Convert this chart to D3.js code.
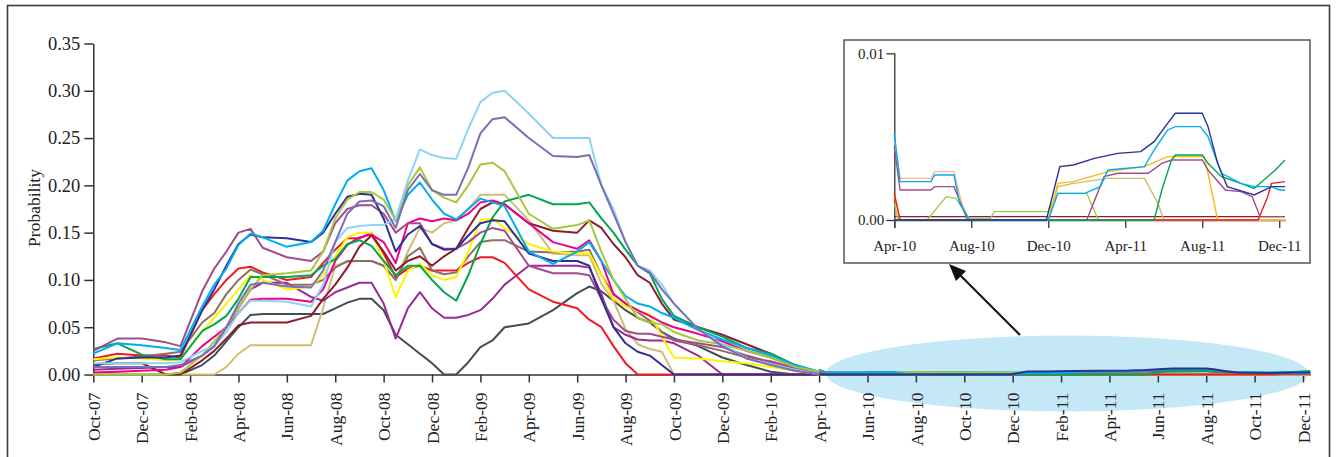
<!DOCTYPE html>
<html>
<head>
<meta charset="utf-8">
<script src="https://cdn.jsdelivr.net/npm/d3@7"></script>
<style>
  body { margin: 0; background: #fff; }
  svg text { font-family: "Liberation Serif", "DejaVu Serif", serif; fill: #222; }
</style>
</head>
<body>
<svg width="1344" height="457"></svg>
<script>
// x values: months counted from Oct-07
const months = [0,1,2,3,3.6,4.5,5,5.5,6,6.5,7,8,9,9.5,10,10.5,11,11.5,12,12.5,13,13.5,14,14.5,15,15.5,16,16.5,17,18,19,20,20.5,21,21.5,22,22.5,23,23.5,24,25,26,27,28,29,30,50.3];
const tickLabels = ["Oct-07","Dec-07","Feb-08","Apr-08","Jun-08","Aug-08","Oct-08","Dec-08","Feb-09","Apr-09","Jun-09","Aug-09","Oct-09","Dec-09","Feb-10","Apr-10","Jun-10","Aug-10","Oct-10","Dec-10","Feb-11","Apr-11","Jun-11","Aug-11","Oct-11","Dec-11"];
const yTicks = [0,0.05,0.10,0.15,0.20,0.25,0.30,0.35];

const paleSky  = [0.012,0.012,0.012,0.012,0.013,0.025,0.03,0.045,0.065,0.078,0.078,0.077,0.072,0.095,0.14,0.155,0.157,0.158,0.158,0.165,0.205,0.238,0.232,0.229,0.228,0.26,0.288,0.298,0.30,0.276,0.25,0.25,0.25,0.20,0.175,0.14,0.115,0.11,0.095,0.075,0.048,0.032,0.017,0.011,0.005,0,0];
const lavender = [0.008,0.008,0.008,0.008,0.01,0.02,0.03,0.05,0.075,0.095,0.097,0.093,0.092,0.11,0.14,0.17,0.183,0.184,0.178,0.155,0.195,0.212,0.195,0.19,0.19,0.219,0.255,0.27,0.272,0.25,0.231,0.23,0.232,0.2,0.17,0.14,0.115,0.108,0.09,0.075,0.048,0.03,0.017,0.01,0.004,0,0];
const lime     = [0,0,0,0,0.002,0.02,0.035,0.05,0.07,0.09,0.105,0.107,0.11,0.13,0.165,0.185,0.193,0.193,0.185,0.163,0.2,0.219,0.195,0.187,0.182,0.2,0.222,0.224,0.215,0.17,0.154,0.158,0.163,0.13,0.1,0.08,0.06,0.055,0.053,0.045,0.036,0.032,0.025,0.018,0.008,0.003,0];
const tan      = [0,0,0,0,0,0,0,0.008,0.022,0.031,0.031,0.031,0.031,0.07,0.115,0.119,0.12,0.12,0.115,0.1,0.13,0.155,0.15,0.16,0.163,0.175,0.19,0.19,0.19,0.163,0.128,0.126,0.126,0.096,0.078,0.048,0.032,0.027,0.024,0,0,0,0,0,0,0,0];
const green    = [0.027,0.033,0.021,0.016,0.016,0.046,0.053,0.062,0.08,0.103,0.103,0.103,0.105,0.115,0.122,0.138,0.142,0.136,0.12,0.105,0.115,0.115,0.1,0.087,0.078,0.105,0.138,0.166,0.183,0.19,0.18,0.18,0.182,0.165,0.15,0.132,0.115,0.107,0.08,0.062,0.05,0.04,0.028,0.022,0.01,0.003,0];
const maroon   = [0.011,0.012,0.012,0,0,0.015,0.025,0.038,0.052,0.055,0.055,0.055,0.062,0.08,0.095,0.113,0.135,0.147,0.13,0.11,0.12,0.125,0.115,0.125,0.133,0.155,0.175,0.182,0.18,0.16,0.152,0.15,0.163,0.155,0.138,0.124,0.105,0.097,0.075,0.058,0.05,0.042,0.032,0.022,0.01,0.002,0];
const pink     = [0.002,0.003,0.004,0.005,0.008,0.03,0.04,0.05,0.065,0.079,0.08,0.08,0.077,0.09,0.12,0.137,0.145,0.148,0.14,0.118,0.16,0.165,0.162,0.165,0.163,0.17,0.182,0.184,0.18,0.16,0.14,0.133,0.142,0.12,0.085,0.075,0.068,0.062,0.055,0.05,0.043,0.035,0.025,0.018,0.008,0.002,0];
const cyan     = [0.022,0.033,0.031,0.028,0.026,0.072,0.095,0.112,0.137,0.149,0.145,0.135,0.14,0.152,0.18,0.205,0.215,0.218,0.195,0.162,0.19,0.203,0.185,0.17,0.164,0.175,0.186,0.182,0.178,0.13,0.117,0.13,0.14,0.12,0.1,0.083,0.075,0.072,0.065,0.06,0.047,0.037,0.028,0.02,0.01,0.003,0];
const navy     = [0.008,0.017,0.018,0.018,0.02,0.068,0.09,0.115,0.138,0.148,0.145,0.144,0.14,0.15,0.17,0.188,0.191,0.19,0.165,0.13,0.148,0.157,0.138,0.132,0.133,0.147,0.16,0.163,0.162,0.128,0.12,0.12,0.115,0.08,0.05,0.033,0.024,0.02,0.01,0,0,0,0,0,0,0,0];
const yellow   = [0.016,0.018,0.017,0.015,0.016,0.045,0.06,0.075,0.09,0.105,0.1,0.09,0.093,0.105,0.125,0.145,0.15,0.15,0.12,0.082,0.11,0.117,0.105,0.1,0.103,0.13,0.163,0.165,0.155,0.138,0.13,0.128,0.128,0.105,0.08,0.072,0.067,0.064,0.04,0.018,0.017,0.014,0.012,0.008,0.004,0,0];
const red      = [0.017,0.022,0.02,0.02,0.018,0.068,0.085,0.1,0.112,0.114,0.108,0.1,0.103,0.118,0.132,0.144,0.144,0.15,0.128,0.103,0.112,0.115,0.11,0.11,0.11,0.118,0.124,0.124,0.118,0.09,0.077,0.07,0.058,0.05,0.03,0.012,0,0,0,0,0,0,0,0,0,0,0];
const brown    = [0.015,0.017,0.019,0.022,0.024,0.055,0.065,0.085,0.1,0.111,0.106,0.095,0.095,0.1,0.113,0.12,0.12,0.12,0.115,0.1,0.125,0.134,0.11,0.106,0.108,0.125,0.14,0.142,0.142,0.13,0.129,0.13,0.132,0.105,0.085,0.075,0.066,0.057,0.045,0.036,0.031,0.025,0.018,0.014,0.007,0.001,0];
const purple   = [0.005,0.006,0.007,0.008,0.008,0.02,0.03,0.05,0.07,0.09,0.097,0.097,0.082,0.078,0.087,0.092,0.097,0.097,0.075,0.038,0.07,0.087,0.07,0.06,0.06,0.063,0.068,0.08,0.095,0.115,0.115,0.115,0.113,0.085,0.05,0.042,0.037,0.036,0.036,0.033,0.02,0,0,0,0,0,0];
const slate    = [0,0,0,0,0,0.01,0.02,0.035,0.05,0.063,0.064,0.064,0.064,0.064,0.07,0.076,0.08,0.08,0.068,0.042,0.032,0.022,0.012,0,0,0.013,0.029,0.036,0.05,0.054,0.068,0.086,0.093,0.088,0.078,0.068,0.06,0.055,0.045,0.038,0.03,0.018,0.01,0.003,0,0,0];
const mauve    = [0.025,0.038,0.038,0.034,0.03,0.088,0.112,0.13,0.15,0.154,0.134,0.124,0.12,0.13,0.16,0.175,0.179,0.179,0.17,0.15,0.16,0.16,0.138,0.133,0.133,0.14,0.15,0.155,0.152,0.115,0.107,0.107,0.105,0.08,0.058,0.046,0.043,0.043,0.04,0.037,0.033,0.029,0.02,0.013,0.006,0.001,0];

// tail after Apr-10: [months from Apr-10, value]
const insetLabels = ["Apr-10","Aug-10","Dec-10","Apr-11","Aug-11","Dec-11"];
const navyTail   = [[0,0],[7.9,0],[8.6,0.0032],[9.3,0.0033],[10.4,0.0037],[11.6,0.004],[12.8,0.0041],[13.5,0.0047],[14.2,0.0058],[14.6,0.0064],[16.0,0.0064],[16.3,0.0056],[16.8,0.0034],[17.3,0.002],[18.7,0.0015],[19.6,0.002],[20.3,0.002]];
const cyanTail   = [[0,0.0052],[0.3,0.0023],[1.9,0.0023],[2.1,0.0027],[3.1,0.0027],[3.4,0.001],[3.9,0],[8.0,0],[8.5,0.0016],[9.9,0.0016],[10.7,0.002],[11.1,0.003],[13,0.0032],[13.5,0.0042],[14.2,0.0054],[14.6,0.0056],[15.9,0.0056],[16.3,0.005],[17,0.0028],[18,0.0022],[18.7,0.002],[19.6,0.002],[20,0.0018],[20.3,0.0018]];
const peachTail  = [[0,0.0048],[0.3,0.0025],[1.9,0.0025],[2.1,0.0029],[3.1,0.0029],[3.5,0.001],[3.9,0],[20.3,0]];
const mauveTail  = [[0,0.0044],[0.3,0.0018],[1.9,0.0018],[2.1,0.002],[3.1,0.002],[3.8,0],[10.0,0],[10.9,0.0026],[11.6,0.0028],[13.2,0.0028],[13.9,0.0034],[14.4,0.0036],[16,0.0036],[16.3,0.003],[17.2,0.0018],[18,0.0017],[18.6,0.0014],[19,0.0002],[20.3,0.0002]];
const limeTail   = [[0,0.001],[0.2,0],[1.7,0],[2.7,0.0014],[3.2,0.0013],[3.9,0.0001],[5.0,0.0001],[5.2,0.0005],[8.0,0.0005],[8.5,0.0016],[10.0,0.0016],[10.6,0],[20.3,0]];
const orangeTail = [[0,0.0015],[0.3,0],[8.0,0],[8.5,0.0022],[9.3,0.0023],[11.1,0.0029],[13,0.0032],[14.2,0.0038],[16.1,0.0038],[16.3,0.0028],[16.8,0],[20.3,0]];
const tanTail    = [[0,0],[8.0,0],[8.5,0.002],[9.3,0.0022],[11.1,0.0025],[13.0,0.0025],[13.7,0.001],[14.0,0],[20.3,0]];
const greenTail  = [[0,0],[13.5,0],[13.9,0.0018],[14.4,0.0036],[14.6,0.0039],[16,0.0039],[16.3,0.0034],[17,0.0026],[18,0.0022],[18.7,0.0019],[19.2,0.0024],[19.8,0.003],[20.3,0.0036]];
const redTail    = [[0,0.0016],[0.3,0],[18.9,0],[19.4,0.0014],[19.6,0.0022],[20.3,0.0023]];
const maroonTail = [[0,0.0002],[20.3,0.0002]];

const series = [
  {values: slate, color: "#3f4e58"},
  {values: tan, color: "#cfbf72"},
  {values: purple, color: "#9b2a93"},
  {values: red, color: "#ed1c24"},
  {values: brown, color: "#8c6e63"},
  {values: yellow, color: "#fff200"},
  {values: maroon, color: "#8b1d2c"},
  {values: pink, color: "#ec008c"},
  {values: green, color: "#00a651"},
  {values: mauve, color: "#a24c8c"},
  {values: navy, color: "#2e3192"},
  {values: cyan, color: "#00aeef"},
  {values: lime, color: "#a8c83c"},
  {values: paleSky, color: "#8dd3f3"},
  {values: lavender, color: "#7a6fb5"}
];
const tails = [
  {values: maroonTail, color: "#8b1d2c"},
  {values: peachTail, color: "#f7b58a"},
  {values: limeTail, color: "#a8c83c"},
  {values: tanTail, color: "#c9bd6c"},
  {values: orangeTail, color: "#fbb917"},
  {values: redTail, color: "#ed1c24"},
  {values: mauveTail, color: "#a24c8c"},
  {values: greenTail, color: "#00a651"},
  {values: cyanTail, color: "#00aeef"},
  {values: navyTail, color: "#2e3192"}
];

const svg = d3.select("svg");

// frame
svg.append("rect").attr("x", 7.5).attr("y", 5.5).attr("width", 1322).attr("height", 470)
  .attr("fill", "none").attr("stroke", "#3a3a3a").attr("stroke-width", 1.6);

const x = d3.scaleLinear().domain([0, 50]).range([93.3, 1303]);
const y = d3.scaleLinear().domain([0, 0.35]).range([374.5, 43.5]);

// highlight ellipse
svg.append("ellipse").attr("cx", 1067).attr("cy", 373.5).attr("rx", 241).attr("ry", 38)
  .attr("fill", "#c5e8f7");

// y axis
const yAxis = svg.append("g").attr("transform", "translate(93.3,0)")
  .call(d3.axisLeft(y).tickValues(yTicks).tickFormat(d3.format(".2f")).tickSize(9).tickSizeOuter(0));
yAxis.select(".domain").attr("stroke", "#333").attr("stroke-width", 1.5);
yAxis.selectAll(".tick line").attr("stroke", "#333").attr("stroke-width", 1.5);
yAxis.selectAll("text").attr("font-size", 18.5).attr("x", -13).attr("fill", "#222")
  .attr("font-family", "Liberation Serif");

// x axis
const xAxis = svg.append("g").attr("transform", "translate(0,374.5)")
  .call(d3.axisBottom(x).tickValues(d3.range(0, 51, 2)).tickFormat((d, i) => tickLabels[i]).tickSize(8).tickSizeOuter(0));
xAxis.select(".domain").attr("stroke", "#333").attr("stroke-width", 1.5).attr("d", "M93.3,0.5H1306");
xAxis.selectAll(".tick line").attr("stroke", "#333").attr("stroke-width", 1.5);
xAxis.selectAll("text").attr("font-size", 17.5).attr("fill", "#222").attr("font-family", "Liberation Serif")
  .attr("transform", "rotate(-90)").attr("text-anchor", "end")
  .attr("x", -18).attr("y", 0).attr("dy", "0.35em");

svg.append("text").attr("transform", "translate(40,208) rotate(-90)")
  .attr("text-anchor", "middle").attr("font-size", 17.5).text("Probability");

// lines
const line = d3.line().x(d => x(d[0])).y(d => y(d[1]));
const lineG = svg.append("g").attr("fill", "none").attr("stroke-width", 2).attr("stroke-linejoin", "round");
series.forEach(s => {
  lineG.append("path").attr("d", line(months.map((m, i) => [m, s.values[i]]))).attr("stroke", s.color);
});
tails.forEach(s => {
  lineG.append("path").attr("d", line(s.values.map(d => [30 + d[0], d[1]]))).attr("stroke", s.color);
});

// arrow
svg.append("line").attr("x1", 1020).attr("y1", 335).attr("x2", 957).attr("y2", 272)
  .attr("stroke", "#111").attr("stroke-width", 2.2);
svg.append("path").attr("d", "M949,264 L966,271 L956,281 Z").attr("fill", "#111");

// inset
const inset = svg.append("g");
inset.append("rect").attr("x", 844).attr("y", 40).attr("width", 466).attr("height", 223)
  .attr("fill", "#fff").attr("stroke", "#555").attr("stroke-width", 1.5);
const ix = d3.scaleLinear().domain([0, 20.3]).range([894.3, 1285]);
const iy = d3.scaleLinear().domain([0, 0.01]).range([220, 53.3]);

const iyAxis = inset.append("g").attr("transform", "translate(894.3,0)")
  .call(d3.axisLeft(iy).tickValues([0, 0.01]).tickFormat(d3.format(".2f")).tickSize(8).tickSizeOuter(0));
iyAxis.select(".domain").attr("stroke", "#333").attr("stroke-width", 1.3).attr("d", "M0.5,53.3V228");
iyAxis.selectAll(".tick line").attr("stroke", "#333").attr("stroke-width", 1.3);
iyAxis.selectAll("text").attr("font-size", 15).attr("x", -10).attr("fill", "#222").attr("font-family", "Liberation Serif");

const ixAxis = inset.append("g").attr("transform", "translate(0,220)")
  .call(d3.axisBottom(ix).tickValues(d3.range(0, 21, 4)).tickFormat((d, i) => insetLabels[i]).tickSize(8).tickSizeOuter(0));
ixAxis.select(".domain").attr("stroke", "#333").attr("stroke-width", 1.3);
ixAxis.selectAll(".tick line").attr("stroke", "#333").attr("stroke-width", 1.3);
ixAxis.selectAll("text").attr("font-size", 15).attr("fill", "#222").attr("font-family", "Liberation Serif").attr("y", 20);

const iline = d3.line().x(d => ix(d[0])).y(d => iy(d[1]));
const ig = inset.append("g").attr("fill", "none").attr("stroke-width", 1.4);
tails.forEach(s => {
  ig.append("path").attr("d", iline(s.values)).attr("stroke", s.color);
});
</script>
</body>
</html>
